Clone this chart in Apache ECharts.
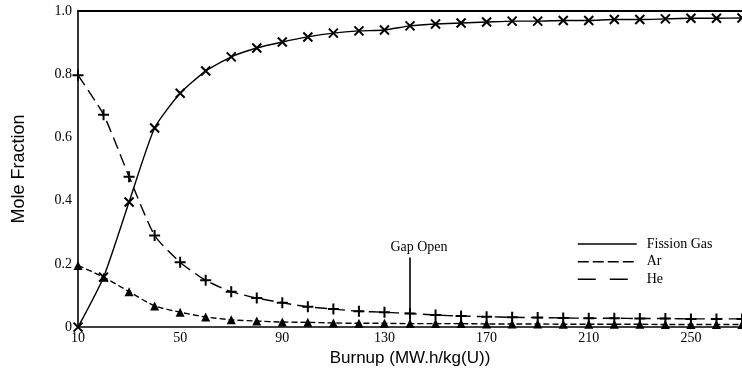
<!DOCTYPE html>
<html><head><meta charset="utf-8">
<script src="https://cdn.jsdelivr.net/npm/echarts@6/dist/echarts.min.js"></script>
<style>html,body{margin:0;padding:0;background:#fff}#c{width:742px;height:372px}</style>
</head><body><div id="c"></div>
<script>
const burnup = [10,20,30,40,50,60,70,80,90,100,110,120,130,140,150,160,170,180,190,200,210,220,230,240,250,260,270];
const fissionGas = [0,0.158,0.396,0.63,0.74,0.81,0.855,0.883,0.902,0.918,0.93,0.937,0.94,0.953,0.959,0.962,0.965,0.968,0.968,0.970,0.970,0.973,0.973,0.975,0.977,0.977,0.978];
const ar = [0.195,0.158,0.112,0.067,0.047,0.032,0.023,0.019,0.016,0.015,0.013,0.012,0.012,0.011,0.011,0.011,0.010,0.010,0.010,0.009,0.009,0.009,0.009,0.008,0.008,0.008,0.008];
const he = [0.797,0.672,0.476,0.29,0.205,0.148,0.112,0.092,0.077,0.064,0.057,0.05,0.047,0.043,0.038,0.035,0.033,0.031,0.030,0.029,0.028,0.028,0.027,0.027,0.026,0.026,0.026];
const xTicks = [10,50,90,130,170,210,250];
const yTicks = [0,0.2,0.4,0.6,0.8,1.0];
const seriesNames = ['Fission Gas','Ar','He'];
const gapOpen = {burnup: 140, top: 0.22, label: 'Gap Open'};
const xName = 'Burnup (MW.h/kg(U))';
const yName = 'Mole Fraction';

const pair = (ys) => burnup.map((x, i) => [x, ys[i]]);
const serif = 'Liberation Serif';
const sans = 'Liberation Sans';
const chart = echarts.init(document.getElementById('c'), null, {renderer: 'canvas'});
chart.setOption({
  animation: false,
  backgroundColor: '#fff',
  grid: {left: 78, right: 0, top: 11, bottom: 44, containLabel: false},
  legend: {
    orient: 'vertical', left: 572, top: 231,
    itemWidth: 59, itemHeight: 14, itemGap: 2.5,
    itemStyle: {opacity: 0},
    textStyle: {fontFamily: serif, fontSize: 14, color: '#000', padding: [0,0,0,5], lineHeight: 14},
    data: [
      {name: seriesNames[0], lineStyle: {type: 'solid', width: 1.5}},
      {name: seriesNames[1], lineStyle: {type: [11,4], width: 1.5}},
      {name: seriesNames[2], lineStyle: {type: [18,14], width: 1.5}}
    ]
  },
  xAxis: [{
    type: 'value', min: 10, max: 270, interval: 40,
    name: xName, nameLocation: 'middle', nameGap: 21,
    nameTextStyle: {fontFamily: sans, fontSize: 17, color: '#000'},
    axisLine: {show: true, lineStyle: {color: '#000', width: 1.6}},
    axisTick: {show: false},
    splitLine: {show: false},
    axisLabel: {showMaxLabel: false, margin: 4, fontFamily: serif, fontSize: 14, color: '#000',
      formatter: v => xTicks.includes(v) ? String(v) : ''}
  }, {
    type: 'value', position: 'top', min: 10, max: 270,
    axisLine: {show: true, lineStyle: {color: '#000', width: 2}},
    axisTick: {show: false}, axisLabel: {show: false}, splitLine: {show: false}
  }],
  yAxis: {
    type: 'value', min: 0, max: 1, interval: 0.2,
    name: yName, nameLocation: 'middle', nameGap: 50, nameRotate: 90,
    nameTextStyle: {fontFamily: sans, fontSize: 18, color: '#000'},
    axisLine: {show: true, lineStyle: {color: '#000', width: 1.6}},
    axisTick: {show: false},
    splitLine: {show: false},
    axisLabel: {margin: 6, fontFamily: serif, fontSize: 14, color: '#000',
      formatter: v => { const t = yTicks.find(y => Math.abs(y - v) < 1e-9); return t === undefined ? '' : (t === 0 ? '0' : t.toFixed(1)); }}
  },
  series: [
    {
      name: seriesNames[0], type: 'line', data: pair(fissionGas), smooth: 0.2,
      showSymbol: true, showAllSymbol: true,
      symbol: 'path://M0,0L10,10M10,0L0,10', symbolSize: 9,
      itemStyle: {color: 'none', borderColor: '#000', borderWidth: 2},
      lineStyle: {color: '#000', width: 1.4, type: 'solid'},
      markLine: {
        silent: true, symbol: 'none', animation: false,
        lineStyle: {color: '#000', width: 1.6, type: 'solid'},
        label: {show: true, position: 'end', formatter: gapOpen.label, fontFamily: serif, fontSize: 14, color: '#000', padding: [0,0,0,18], distance: 3},
        data: [[{coord: [gapOpen.burnup, 0]}, {coord: [gapOpen.burnup, gapOpen.top]}]]
      }
    },
    {
      name: seriesNames[1], type: 'line', data: pair(ar), smooth: 0.2,
      showSymbol: true, showAllSymbol: true,
      symbol: 'triangle', symbolSize: 9,
      itemStyle: {color: '#000'},
      lineStyle: {color: '#000', width: 1.4, type: [6,3]}
    },
    {
      name: seriesNames[2], type: 'line', data: pair(he), smooth: 0.2,
      showSymbol: true, showAllSymbol: true,
      symbol: 'path://M5,0L5,10M0,5L10,5', symbolSize: 11,
      itemStyle: {color: 'none', borderColor: '#000', borderWidth: 2},
      lineStyle: {color: '#000', width: 1.4, type: [12,6]}
    }
  ]
});
</script></body></html>
